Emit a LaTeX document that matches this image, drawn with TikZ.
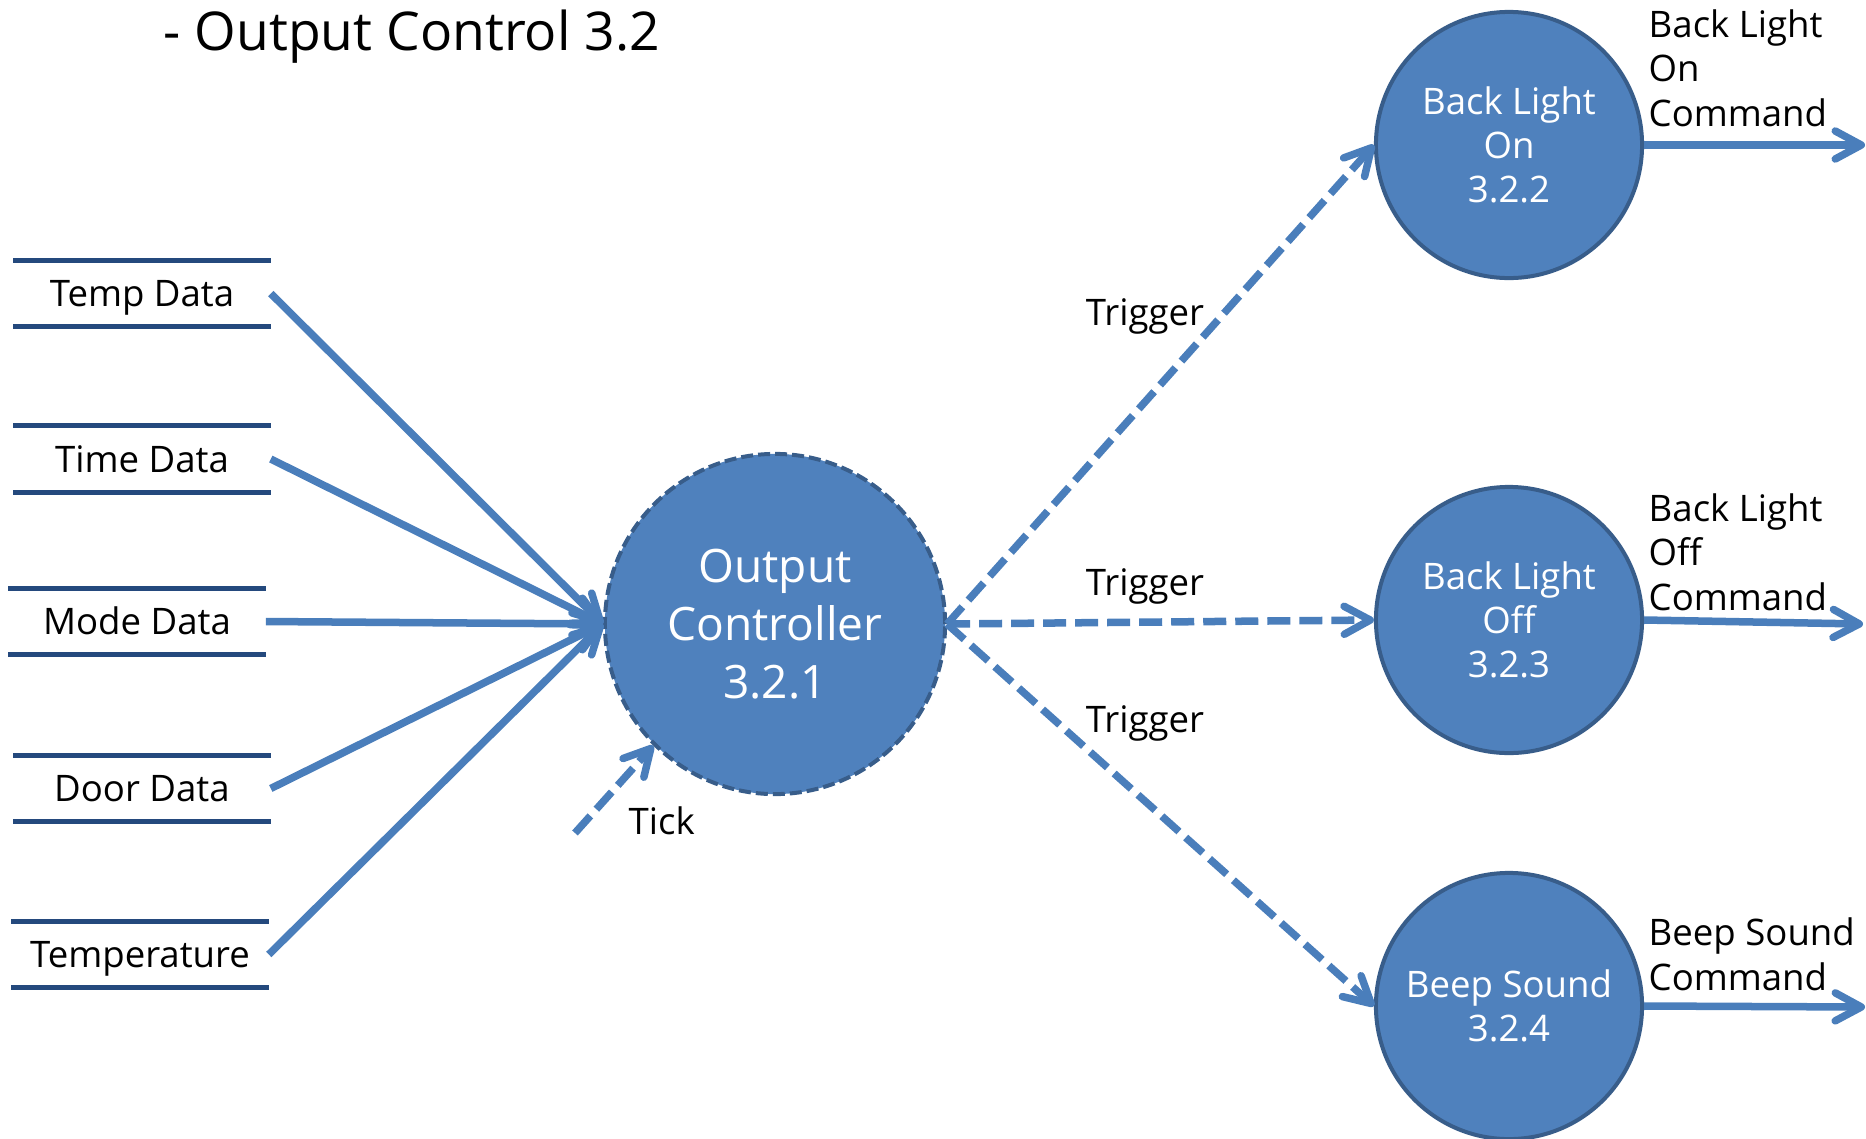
\documentclass[tikz,border=0pt]{standalone}
\usepackage{fontspec}
\setmainfont{Open Sans}
\usetikzlibrary{arrows.meta}
\definecolor{procblue}{HTML}{4F81BD}
\definecolor{procedge}{HTML}{385D8A}
\definecolor{flowblue}{HTML}{4A7EBB}
\definecolor{storeblue}{HTML}{24497D}
\begin{document}
\begin{tikzpicture}[x=0.01cm, y=-0.01cm,
  lbl/.style={font=\fontsize{10.4}{12.6}\selectfont, inner sep=0pt},
  storeline/.style={draw=storeblue, line width=0.05cm},
  store/.style={lbl, minimum width=2.56cm, minimum height=0.65cm,
    text height=7.4pt, text depth=0pt,
    append after command={(\tikzlastnode.north west) edge[storeline] (\tikzlastnode.north east)
                          (\tikzlastnode.south west) edge[storeline] (\tikzlastnode.south east)}},
  proc/.style={circle, fill=procblue, draw=procedge, line width=0.04cm,
    minimum size=2.66cm, inner sep=0pt, text=white, align=center,
    font=\fontsize{10.4}{12.6}\selectfont},
  ctrl/.style={proc, minimum size=3.4cm, dash pattern=on 0.12cm off 0.05cm,
    font=\fontsize{13.1}{16.5}\selectfont},
  flow/.style={draw=flowblue, line width=0.075cm,
    -{Straight Barb[length=0.26cm, width=0.28cm, round]}},
  trig/.style={flow, dash pattern=on 0.23cm off 0.09cm}]
\useasboundingbox (0,0) rectangle (1866,1139);

% title
\node[font=\fontsize{15.2}{18}\selectfont, inner sep=0pt, anchor=base west] (title) at (163,50) {- Output Control 3.2};

% data stores
\node[store] (sTemp) at (142,293.5) {Temp Data};
\node[store] (sTime) at (142,459) {Time Data};
\node[store] (sMode) at (137,621.5) {Mode Data};
\node[store] (sDoor) at (142,788.5) {Door Data};
\node[store] (sTemperature) at (140,954.5) {Temperature};

% processes
\node[ctrl] (oc) at (775,624) {Output\\Controller\\3.2.1};
\node[proc] (blon) at (1509,145) {Back Light\\On\\3.2.2};
\node[proc] (bloff) at (1509,620) {Back Light\\Off\\3.2.3};
\node[proc] (beep) at (1509,1006) {Beep Sound\\3.2.4};

% inputs to the controller
\foreach \s in {sTemp,sTime,sMode,sDoor,sTemperature}
  \draw[flow] (\s.east) -- (oc.west);

% clock tick
\coordinate (tickSrc) at (575,833);
\draw[trig] (tickSrc) -- (oc.225);
\node[lbl, anchor=base west] (tickLbl) at (628,834) {Tick};

% triggers
\draw[trig] (oc.east) -- (blon.west);
\draw[trig] (oc.east) -- (bloff.west);
\draw[trig] (oc.east) -- (beep.west);
\node[lbl, anchor=base] (trig1) at (1145,325) {Trigger};
\node[lbl, anchor=base] (trig2) at (1145,595) {Trigger};
\node[lbl, anchor=base] (trig3) at (1145,732) {Trigger};

% outgoing commands (base anchor sits on the last line)
\coordinate (onOut) at (1865,145);
\coordinate (offOut) at (1863,624);
\coordinate (beepOut) at (1865,1007);
\draw[flow] (blon.east) -- (onOut);
\draw[flow] (bloff.east) -- (offOut);
\draw[flow] (beep.east) -- (beepOut);
\node[lbl, anchor=base west, align=left] (onLbl) at (1648,126) {Back Light\\On\\Command};
\node[lbl, anchor=base west, align=left] (offLbl) at (1648,610) {Back Light\\Off\\Command};
\node[lbl, anchor=base west, align=left] (beepLbl) at (1648,990) {Beep Sound\\Command};
\end{tikzpicture}
\end{document}
